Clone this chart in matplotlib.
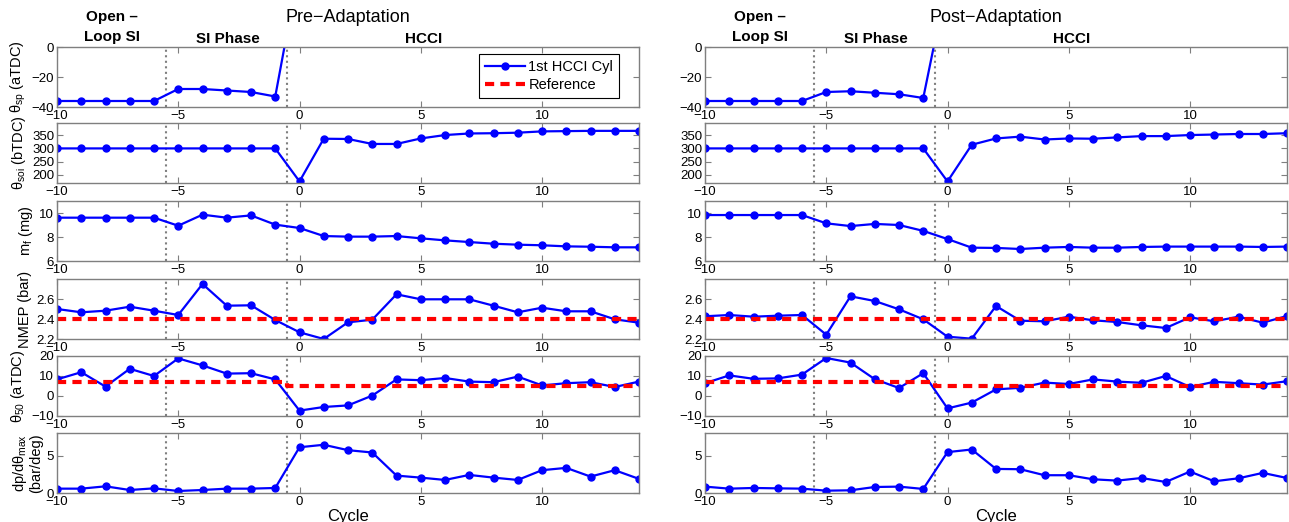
import matplotlib
matplotlib.use('Agg')
import matplotlib.pyplot as plt
import numpy as np

plt.rcParams['font.family'] = ['Liberation Sans', 'DejaVu Sans']
plt.rcParams['axes.unicode_minus'] = True
plt.rcParams['mathtext.fontset'] = 'custom'
plt.rcParams['mathtext.rm'] = 'Liberation Sans'
plt.rcParams['mathtext.it'] = 'Liberation Sans'

cycles = np.arange(-10, 15)
spark_cycles = np.arange(-10, 1)

# Pre-adaptation data
pre_sp = [-36, -36, -36, -36, -36, -28, -28, -29, -30, -33, 54]
pre_soi = [300, 300, 300, 300, 300, 300, 300, 300, 300, 300, 174,
           337, 336, 317, 317, 338, 351, 357, 358, 360, 365, 366, 367, 367, 367]
pre_mf = [9.61, 9.61, 9.61, 9.61, 9.61, 8.94, 9.86, 9.61, 9.8, 9.03, 8.75,
          8.08, 8.03, 8.03, 8.08, 7.89, 7.72, 7.58, 7.44, 7.36, 7.31, 7.22, 7.19, 7.14, 7.14]
pre_nmep = [2.5, 2.467, 2.483, 2.523, 2.483, 2.44, 2.75, 2.533, 2.537, 2.39, 2.267,
            2.2, 2.367, 2.393, 2.647, 2.597, 2.597, 2.597, 2.533, 2.467, 2.513, 2.477, 2.477, 2.397, 2.363]
pre_ca50 = [8.3, 11.9, 4.7, 13.6, 10.0, 18.8, 15.3, 11.2, 11.4, 8.3, -7.3,
            -5.5, -4.7, 0.2, 8.3, 7.9, 9.0, 7.2, 6.9, 9.7, 5.3, 6.4, 6.9, 4.5, 7.2]
pre_dp = [0.58, 0.58, 0.89, 0.4, 0.62, 0.27, 0.4, 0.58, 0.58, 0.67, 6.1,
          6.43, 5.71, 5.4, 2.32, 2.05, 1.74, 2.41, 2.05, 1.74, 3.04, 3.35, 2.19, 3.04, 1.88]

# Post-adaptation data
post_sp = [-36, -36, -36, -36, -36, -30, -29.5, -30.5, -31.5, -34, 45]
post_soi = [300, 300, 300, 300, 300, 300, 300, 300, 300, 300, 174,
            314, 338, 345, 334, 338, 337, 342, 347, 347, 351, 353, 355, 355, 358]
post_mf = [9.83, 9.83, 9.83, 9.83, 9.83, 9.14, 8.91, 9.09, 9.0, 8.51, 7.83,
           7.11, 7.09, 7.0, 7.11, 7.17, 7.11, 7.11, 7.17, 7.2, 7.2, 7.2, 7.2, 7.17, 7.2]
post_nmep = [2.427, 2.44, 2.423, 2.433, 2.44, 2.243, 2.627, 2.58, 2.497, 2.397, 2.223,
             2.203, 2.53, 2.383, 2.377, 2.423, 2.387, 2.37, 2.337, 2.31, 2.417, 2.377, 2.423, 2.363, 2.43]
post_ca50 = [6.4, 10.3, 8.6, 8.8, 10.7, 19.0, 16.7, 8.4, 4.0, 11.4, -6.2,
             -3.3, 3.3, 4.1, 6.7, 6.0, 8.3, 7.2, 6.6, 10.0, 4.5, 7.1, 6.4, 5.7, 7.4]
post_dp = [0.85, 0.58, 0.67, 0.62, 0.58, 0.31, 0.36, 0.8, 0.85, 0.54, 5.45,
           5.8, 3.21, 3.17, 2.37, 2.37, 1.83, 1.65, 2.0, 1.47, 2.86, 1.56, 1.96, 2.68, 2.0]

# references
nmep_ref = [2.4] * len(cycles)
ca50_ref = [7.0] * 10 + [5.0] * 15

phase_bounds = [-5.5, -0.5]

ylabels = ['θ$_{\\mathrm{sp}}$ (aTDC)', 'θ$_{\\mathrm{soi}}$ (bTDC)', 'm$_{\\mathrm{f}}$ (mg)',
           'NMEP (bar)', 'θ$_{\\mathrm{50}}$ (aTDC)', 'dp/dθ$_{\\mathrm{max}}$\n(bar/deg)']
ylims = [(-40, 0), (168, 397), (6, 11), (2.2, 2.8), (-10, 20), (0, 8)]
yticks = [[-40, -20, 0], [200, 250, 300, 350], [6, 8, 10], [2.2, 2.4, 2.6],
          [-10, 0, 10, 20], [0, 5]]

W, H = 1289, 522
fig = plt.figure(figsize=(W / 100, H / 100), dpi=100)
tops = [47, 123, 201, 279, 356, 433]
ax_h = 60
lefts = [57, 705]
ax_w = 582

blue = (0, 0, 1)
gray = '#7f7f7f'

columns = [
    ('Pre\u2212Adaptation', [pre_sp, pre_soi, pre_mf, pre_nmep, pre_ca50, pre_dp]),
    ('Post\u2212Adaptation', [post_sp, post_soi, post_mf, post_nmep, post_ca50, post_dp]),
]

for c, (title, series) in enumerate(columns):
    for r in range(6):
        ax = fig.add_axes([lefts[c] / W, 1 - (tops[r] + ax_h) / H, ax_w / W, ax_h / H])
        xs = spark_cycles if r == 0 else cycles
        line, = ax.plot(xs, series[r], '-', color=blue, lw=1.6, marker='o', ms=5,
                        mec=blue, mfc=blue, label='1st HCCI Cyl')
        if r == 3:
            ax.plot(cycles, nmep_ref, '--', color='red', lw=3, dashes=(2.2, 1.5))
        if r == 4:
            ax.plot(cycles, ca50_ref, '--', color='red', lw=3, dashes=(2.2, 1.5),
                    drawstyle='steps-mid')
        for b in phase_bounds:
            ax.axvline(b, color=gray, ls=':', lw=1.5, zorder=1)
        ax.set_xlim(-10, 14)
        ax.set_ylim(*ylims[r])
        ax.set_yticks(yticks[r])
        ax.set_xticks([-10, -5, 0, 5, 10])
        ax.tick_params(direction='in', top=True, right=True, length=4, width=0.8,
                       colors=gray, labelcolor='black', labelsize=9.5, pad=2)
        for s in ax.spines.values():
            s.set_color(gray)
            s.set_linewidth(1.0)
        if c == 0:
            ax.set_ylabel(ylabels[r], fontsize=10.5, labelpad=3, linespacing=1.0)
        if r == 5:
            ax.set_xlabel('Cycle', fontsize=12, labelpad=1)
        if r == 0:
            tr = ax.get_xaxis_transform()
            ax.text(2, 1.5, title, transform=tr, ha='center', va='center', fontsize=13)
            ax.text(-7.73, 1.5, 'Open \u2013', transform=tr, ha='center', va='center',
                    fontsize=11, fontweight='bold')
            ax.text(-7.73, 1.16, 'Loop SI', transform=tr, ha='center', va='center',
                    fontsize=11, fontweight='bold')
            ax.text(-2.95, 1.14, 'SI Phase', transform=tr, ha='center', va='center',
                    fontsize=11, fontweight='bold')
            ax.text(5.1, 1.14, 'HCCI', transform=tr, ha='center', va='center',
                    fontsize=11, fontweight='bold')
            if c == 0:
                ref_handle = plt.Line2D([], [], color='red', ls='--', lw=3, dashes=(2.2, 1.5))
                leg = ax.legend([line, ref_handle], ['1st HCCI Cyl', 'Reference'],
                                loc='upper right', bbox_to_anchor=(0.9656, 0.883),
                                borderaxespad=0, fancybox=False, framealpha=1,
                                edgecolor='black', fontsize=10.5, handlelength=2.8,
                                handletextpad=0.2, borderpad=0.4, labelspacing=0.3)
                leg.get_frame().set_linewidth(0.8)

fig.savefig('out.png', dpi=100)
